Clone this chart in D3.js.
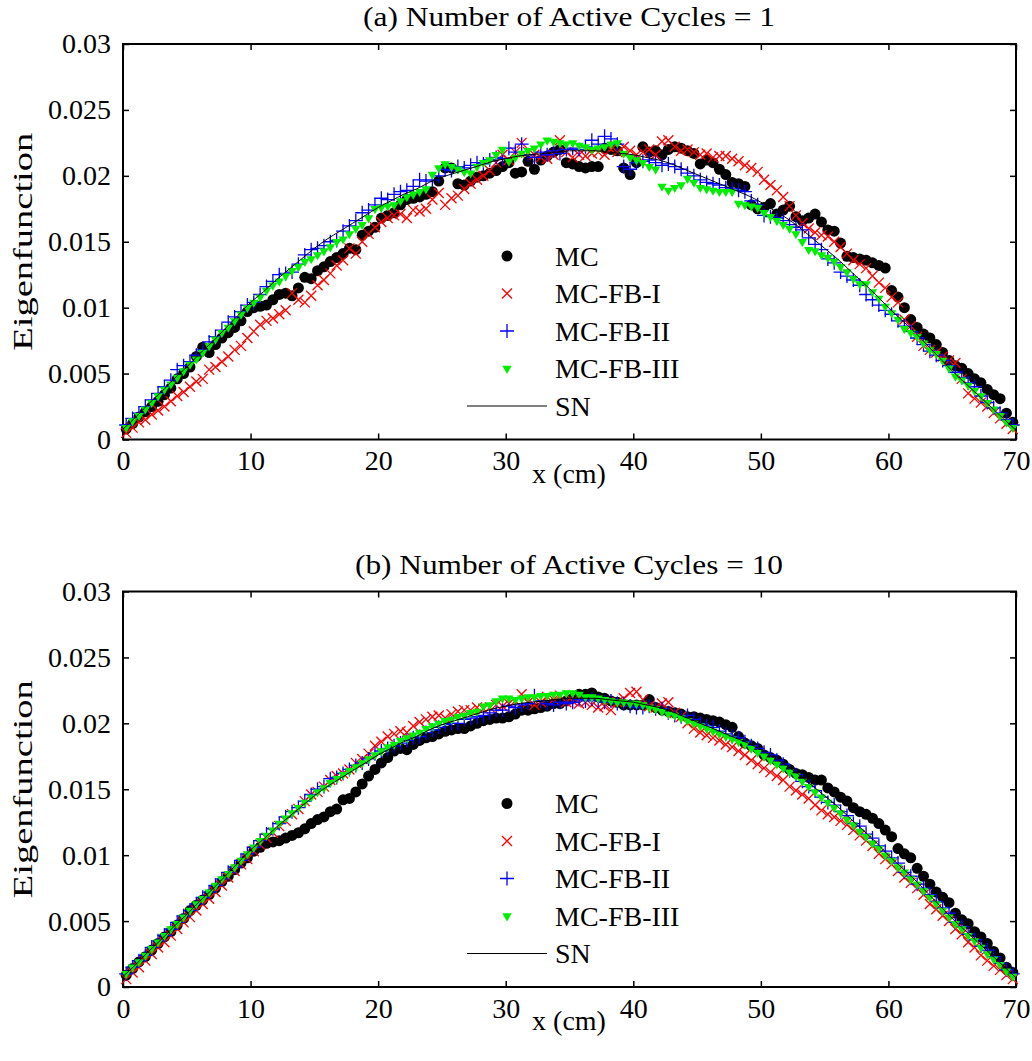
<!DOCTYPE html>
<html>
<head>
<meta charset="utf-8">
<script src="https://cdn.jsdelivr.net/npm/d3@7"></script>
<style>
    body { margin: 0; background: #fff; }
    #chart { width: 1032px; height: 1061px; }
</style>
</head>
<body>
<div id="chart"></div>
<script>

// eigenfunction values in units of 1e-4
// markers sit at x = 0.25, 0.75, ... 69.75 cm, the SN curve at every cm
let sampleX = d3.range(0.25, 70, 0.5);
let snX = d3.range(0, 71, 1);

let xTickValues = [0, 10, 20, 30, 40, 50, 60, 70];
let yTickValues = [0, 0.005, 0.01, 0.015, 0.02, 0.025, 0.03];
let yTickLabels = ["0", "0.005", "0.01", "0.015", "0.02", "0.025", "0.03"];
let seriesNames = ["MC", "MC-FB-I", "MC-FB-II", "MC-FB-III", "SN"];
let panelTitles = ["(a) Number of Active Cycles = 1", "(b) Number of Active Cycles = 10"];

let snCurve = [
    8, 17, 27, 36, 46, 55, 65, 74, 84, 94,
    104, 112, 121, 129, 137, 145, 152, 158, 164, 170,
    176, 181, 186, 190, 195, 199, 202, 205, 208, 211,
    213, 215, 216, 217, 218, 219, 219, 219, 218, 217,
    216, 214, 212, 209, 205, 201, 197, 193, 189, 185,
    180, 174, 168, 161, 153, 145, 137, 128, 119, 110,
    100, 91, 82, 72, 62, 52, 43, 34, 25, 16,
    7
];

// (a) one active cycle
let mcCycle1 = [
    8, 12, 17, 21, 25, 29, 34, 39, 46, 50, 55, 63, 70, 66, 72, 77, 81, 85, 90, 97,
    100, 101, 102, 106, 110, 111, 109, 115, 123, 122, 128, 131, 135, 138, 141, 145, 144, 155, 158, 161,
    168, 170, 172, 178, 182, 183, 184, 186, 188, 196, 206, 206, 194, 193, 196, 199, 200, 202, 204, 207,
    210, 202, 203, 211, 205, 212, 215, 218, 220, 210, 209, 207, 206, 207, 207, 221, 220, 219, 206, 201,
    210, 222, 218, 219, 216, 220, 222, 221, 219, 217, 209, 212, 210, 205, 201, 195, 194, 192, 178, 175,
    176, 179, 171, 174, 177, 169, 166, 168, 171, 165, 159, 158, 149, 139, 138, 137, 136, 134, 132, 130,
    113, 108, 100, 91, 85, 80, 77, 72, 66, 60, 56, 54, 50, 46, 43, 38, 34, 31, 20, 13
];
let fb1Cycle1 = [
    5, 9, 13, 15, 19, 22, 25, 29, 33, 36, 40, 44, 46, 53, 55, 59, 63, 68, 71, 77,
    82, 87, 90, 92, 95, 98, 111, 106, 104, 109, 117, 121, 126, 132, 136, 145, 141, 150, 156, 161,
    165, 168, 170, 171, 168, 174, 173, 175, 182, 187, 178, 183, 185, 190, 194, 197, 200, 204, 210, 216,
    212, 218, 225, 218, 216, 214, 213, 216, 227, 218, 214, 216, 215, 217, 218, 216, 220, 218, 222, 219,
    216, 218, 220, 216, 226, 227, 222, 219, 220, 218, 216, 217, 214, 215, 215, 213, 211, 208, 206, 203,
    197, 193, 189, 184, 177, 170, 164, 160, 157, 155, 154, 150, 146, 141, 136, 133, 130, 124, 119, 115,
    108, 104, 91, 86, 78, 71, 68, 66, 63, 60, 58, 46, 35, 31, 28, 25, 20, 16, 12, 8
];
let fb2Cycle1 = [
    11, 16, 20, 25, 30, 35, 40, 45, 53, 56, 59, 64, 68, 74, 78, 83, 89, 93, 97, 102,
    104, 110, 116, 120, 125, 126, 127, 133, 140, 144, 145, 147, 150, 151, 158, 162, 166, 172, 174, 178,
    183, 182, 186, 188, 189, 192, 197, 196, 197, 200, 205, 204, 207, 206, 208, 210, 209, 212, 214, 213,
    221, 218, 224, 216, 214, 218, 216, 219, 217, 220, 221, 220, 222, 227, 224, 230, 228, 224, 207, 205,
    210, 211, 212, 210, 208, 209, 207, 205, 202, 200, 197, 195, 194, 193, 191, 190, 189, 188, 181, 178,
    170, 169, 168, 166, 163, 161, 159, 153, 148, 144, 137, 134, 127, 124, 121, 117, 110, 106, 102, 98,
    95, 90, 86, 82, 77, 72, 67, 64, 60, 56, 51, 47, 43, 40, 33, 28, 24, 20, 15, 11
];
let fb3Cycle1 = [
    9, 14, 18, 23, 28, 33, 38, 42, 47, 52, 57, 61, 66, 71, 76, 81, 85, 90, 95, 100,
    104, 108, 113, 117, 120, 124, 128, 131, 135, 137, 140, 143, 146, 150, 152, 156, 160, 163, 168, 175,
    176, 177, 178, 181, 184, 186, 188, 190, 201, 206, 209, 207, 205, 203, 202, 207, 210, 212, 216, 220,
    211, 214, 217, 219, 221, 224, 227, 226, 225, 224, 225, 223, 222, 220, 221, 222, 224, 225, 217, 214,
    212, 210, 207, 205, 192, 189, 191, 193, 198, 195, 191, 190, 189, 188, 188, 188, 179, 178, 177, 176,
    172, 169, 166, 163, 160, 156, 150, 144, 143, 140, 138, 135, 131, 127, 122, 118, 118, 112, 107, 101,
    96, 91, 84, 81, 78, 73, 68, 65, 60, 54, 48, 45, 41, 37, 33, 28, 23, 18, 13, 9
];

// (b) ten active cycles
let mcCycle10 = [
    9, 14, 19, 23, 28, 33, 38, 42, 47, 52, 58, 62, 66, 70, 75, 80, 84, 89, 94, 98,
    103, 106, 109, 110, 111, 113, 115, 117, 120, 124, 127, 129, 133, 135, 142, 143, 148, 154, 160, 165,
    170, 174, 179, 181, 180, 184, 187, 189, 190, 192, 194, 195, 196, 196, 198, 200, 202, 203, 204, 204,
    205, 207, 210, 210, 211, 212, 213, 215, 215, 217, 219, 222, 222, 223, 220, 219, 217, 216, 214, 214,
    214, 214, 218, 212, 210, 209, 208, 207, 205, 205, 204, 203, 202, 201, 199, 197, 190, 185, 183, 181,
    176, 174, 172, 169, 165, 162, 161, 159, 157, 157, 151, 148, 144, 141, 136, 133, 131, 128, 124, 119,
    114, 105, 101, 98, 90, 84, 78, 72, 68, 64, 56, 51, 48, 42, 38, 33, 27, 22, 15, 11
];
let fb1Cycle10 = [
    6, 11, 15, 20, 25, 30, 34, 39, 44, 49, 53, 58, 63, 67, 72, 77, 83, 88, 93, 97,
    103, 108, 113, 117, 122, 126, 131, 135, 141, 146, 148, 152, 157, 160, 162, 165, 170, 173, 177, 183,
    186, 190, 192, 194, 193, 198, 201, 203, 205, 206, 204, 207, 209, 210, 210, 212, 211, 212, 214, 213,
    215, 217, 222, 216, 214, 216, 220, 218, 221, 216, 217, 215, 216, 214, 212, 213, 210, 216, 219, 223,
    224, 218, 213, 212, 215, 216, 208, 205, 200, 196, 193, 191, 189, 187, 184, 182, 179, 176, 172, 169,
    166, 163, 160, 157, 152, 149, 146, 143, 138, 134, 131, 129, 126, 123, 119, 115, 111, 107, 101, 97,
    93, 88, 83, 79, 75, 70, 63, 59, 54, 50, 44, 40, 34, 30, 24, 20, 16, 13, 9, 6
];
let fb2Cycle10 = [
    10, 15, 20, 24, 30, 35, 39, 44, 49, 54, 58, 63, 68, 72, 77, 82, 87, 91, 96, 101,
    106, 111, 116, 120, 124, 129, 133, 136, 141, 146, 150, 152, 158, 159, 162, 165, 168, 170, 173, 177,
    179, 181, 183, 185, 187, 189, 190, 193, 195, 197, 199, 200, 200, 203, 204, 205, 206, 208, 210, 210,
    213, 212, 214, 215, 221, 217, 215, 214, 216, 215, 216, 218, 217, 218, 217, 216, 217, 215, 215, 213,
    212, 212, 213, 211, 211, 208, 206, 205, 206, 203, 200, 198, 197, 194, 192, 190, 189, 186, 183, 181,
    178, 176, 172, 169, 164, 161, 156, 152, 149, 144, 140, 138, 133, 130, 124, 122, 116, 113, 107, 103,
    98, 94, 87, 84, 78, 75, 70, 65, 60, 56, 49, 46, 40, 36, 31, 28, 23, 18, 13, 10
];
let fb3Cycle10 = [
    10, 15, 19, 24, 29, 34, 39, 44, 48, 53, 58, 63, 67, 72, 77, 82, 86, 91, 96, 101,
    106, 111, 115, 119, 124, 128, 132, 136, 140, 144, 148, 151, 155, 158, 161, 164, 167, 170, 173, 176,
    179, 182, 184, 187, 189, 191, 193, 196, 198, 200, 202, 203, 205, 206, 208, 209, 213, 214, 217, 219,
    219, 218, 219, 220, 220, 221, 221, 222, 222, 223, 223, 222, 220, 220, 219, 218, 217, 216, 216, 215,
    215, 214, 212, 211, 209, 207, 206, 204, 202, 200, 198, 196, 194, 192, 190, 188, 186, 184, 181, 178,
    175, 172, 169, 166, 163, 160, 156, 152, 148, 144, 140, 136, 132, 127, 123, 118, 114, 109, 105, 100,
    96, 91, 87, 82, 78, 73, 68, 63, 58, 53, 48, 44, 39, 35, 30, 25, 21, 17, 12, 8
];

const fontFamily = '"Liberation Serif", "Times New Roman", serif';
const plotLeft = 123;
const plotRight = 1016;

class EigenPanel {
    constructor(_svg, _top, _title, _series) {
        this.svg = _svg;
        this.top = _top;
        this.title = _title;
        this.series = _series;

        this.initVis();
    }

    initVis() {
        let vis = this;

        vis.height = 395.5;
        vis.g = vis.svg.append("g")
            .attr("transform", "translate(0," + vis.top + ")");

        vis.x = d3.scaleLinear().domain([0, 70]).range([plotLeft, plotRight]);
        vis.y = d3.scaleLinear().domain([0, 0.03]).range([vis.height, 0]);

        // axes, ticks pointing inward on all four sides
        vis.g.append("g")
            .attr("class", "axis axis--x")
            .attr("transform", "translate(0," + vis.height + ")")
            .call(d3.axisBottom(vis.x).tickValues(xTickValues)
                .tickSizeInner(-6).tickSizeOuter(0).tickPadding(11));
        vis.g.append("g")
            .attr("class", "axis axis--top")
            .call(d3.axisTop(vis.x).tickValues(xTickValues).tickFormat("")
                .tickSizeInner(-6).tickSizeOuter(0));
        vis.g.append("g")
            .attr("class", "axis axis--y")
            .attr("transform", "translate(" + plotLeft + ",0)")
            .call(d3.axisLeft(vis.y).tickValues(yTickValues)
                .tickFormat((d, i) => yTickLabels[i])
                .tickSizeInner(-6).tickSizeOuter(0).tickPadding(12));
        vis.g.append("g")
            .attr("class", "axis axis--right")
            .attr("transform", "translate(" + plotRight + ",0)")
            .call(d3.axisRight(vis.y).tickValues(yTickValues).tickFormat("")
                .tickSizeInner(-6).tickSizeOuter(0));

        vis.g.selectAll(".axis .domain").remove();
        vis.g.selectAll(".axis")
            .attr("font-family", fontFamily)
            .attr("font-size", 28);
        vis.g.selectAll(".axis line").attr("stroke-width", 1.5);
        vis.g.selectAll(".axis text").attr("fill", "#000");

        vis.g.append("rect")
            .attr("x", plotLeft)
            .attr("y", 0)
            .attr("width", plotRight - plotLeft)
            .attr("height", vis.height)
            .attr("fill", "none")
            .attr("stroke", "#000")
            .attr("stroke-width", 2);

        // titles and labels
        vis.g.append("text")
            .attr("x", 569)
            .attr("y", -18)
            .attr("text-anchor", "middle")
            .attr("font-family", fontFamily)
            .attr("font-size", 28)
            .attr("textLength", vis.title.length > 31 ? 428 : 412)
            .attr("lengthAdjust", "spacingAndGlyphs")
            .text(vis.title);

        vis.g.append("text")
            .attr("x", 569)
            .attr("y", vis.height + 43)
            .attr("text-anchor", "middle")
            .attr("font-family", fontFamily)
            .attr("font-size", 28)
            .text("x (cm)");

        vis.g.append("text")
            .attr("transform", "translate(32," + (vis.height / 2) + ") rotate(-90)")
            .attr("text-anchor", "middle")
            .attr("font-family", fontFamily)
            .attr("font-size", 28)
            .attr("textLength", 218)
            .attr("lengthAdjust", "spacingAndGlyphs")
            .text("Eigenfunction");

        vis.markerGroup = vis.g.append("g").attr("class", "markers");
        vis.legendGroup = vis.g.append("g").attr("class", "legend");

        vis.updateVis();
    }

    drawMarker(sel, kind) {
        if (kind === 0) {
            sel.append("circle").attr("r", 5.5).attr("fill", "#000");
        } else if (kind === 1) {
            sel.append("path").attr("d", "M-5,-5L5,5M-5,5L5,-5")
                .attr("stroke", "#ff0000").attr("stroke-width", 1.3).attr("fill", "none");
        } else if (kind === 2) {
            sel.append("path").attr("d", "M-7,0H7M0,-7V7")
                .attr("stroke", "#0000ff").attr("stroke-width", 1.3).attr("fill", "none");
        } else {
            sel.append("path").attr("d", d3.symbol(d3.symbolTriangle, 38)())
                .attr("transform", "rotate(180)")
                .attr("fill", "#00ee00");
        }
    }

    updateVis() {
        let vis = this;

        vis.series.forEach((values, k) => {
            let pts = sampleX.map((x, i) => ({x: x, v: values[i] / 1e4}));
            vis.markerGroup.append("g")
                .selectAll("g")
                .data(pts)
                .enter()
                .append("g")
                .attr("transform", d => "translate(" + vis.x(d.x) + "," + vis.y(d.v) + ")")
                .each(function () { vis.drawMarker(d3.select(this), k); });
        });

        let snLine = d3.line()
            .x((d, i) => vis.x(snX[i]))
            .y(d => vis.y(d / 1e4))
            .curve(d3.curveMonotoneX);

        vis.g.append("path")
            .datum(snCurve)
            .attr("d", snLine)
            .attr("fill", "none")
            .attr("stroke", "#000")
            .attr("stroke-width", 1);

        // legend, no box
        seriesNames.forEach((name, k) => {
            let row = vis.legendGroup.append("g")
                .attr("transform", "translate(507," + (212 + k * 37.5) + ")");
            if (k < 4) {
                vis.drawMarker(row.append("g"), k);
            } else {
                row.append("line")
                    .attr("x1", -40).attr("x2", 40)
                    .attr("stroke", "#000").attr("stroke-width", 1);
            }
            row.append("text")
                .attr("x", 48)
                .attr("dy", "0.35em")
                .attr("font-family", fontFamily)
                .attr("font-size", 28)
                .text(name);
        });
    }
}

let svg = d3.select("#chart").append("svg")
    .attr("width", 1032)
    .attr("height", 1061);

let panelA = new EigenPanel(svg, 44, panelTitles[0], [mcCycle1, fb1Cycle1, fb2Cycle1, fb3Cycle1]);
let panelB = new EigenPanel(svg, 591.5, panelTitles[1], [mcCycle10, fb1Cycle10, fb2Cycle10, fb3Cycle10]);

</script>
</body>
</html>
